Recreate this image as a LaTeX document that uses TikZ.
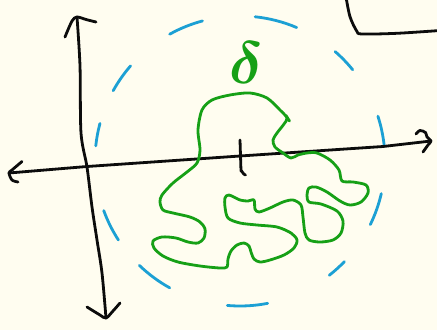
\documentclass[tikz,border=0pt]{standalone}
\usepackage{amsmath}
\usepackage{amssymb}
\usepackage{tikz}

\definecolor{paper}{RGB}{255,253,240}
\definecolor{inkblack}{RGB}{12,12,12}
\definecolor{inkgreen}{RGB}{22,160,22}
\definecolor{inkblue}{RGB}{28,160,212}

\begin{document}
\begin{tikzpicture}[x=1pt, y=-1pt,
    pen/.style={line width=2.8pt, line cap=round, line join=round},
    axispen/.style={pen, inkblack},
    loopen/.style={pen, inkgreen},
    ringpen/.style={pen, inkblue}]
    \fill[paper] (0,0) rectangle (437,330);
    \useasboundingbox (0,0) rectangle (437,330);
    \coordinate (xLeft) at (9,173);
    \coordinate (xRight) at (431,141);
    \coordinate (yTop) at (77,17);
    \coordinate (yBot) at (106,318);
    \coordinate (ctr) at (240,161);
    % dashed ring
    \foreach \a/\b in {105/119, 67/84, 39/49, 139/151, 6/18, 165/174,
                       -26/-13, 200/213, 226/241, -52/-44, 265/281}
        \draw[ringpen] (ctr) ++(-\a:145) arc[start angle=-\a, end angle=-\b, radius=145];
    % axes
    \draw[axispen] (xLeft) -- (87,166.5) -- (240,156) -- (383,146.5) -- (xRight);
    \draw[axispen] plot[smooth] coordinates {(yTop) (80,66) (81,133) (87,167) (92,207) (97,240) (102,273) (yBot)};
    \draw[axispen] plot[smooth] coordinates {(22,161.5) (12,170) (xLeft) (12,180) (18,182)};
    \draw[axispen] plot[smooth] coordinates {(416,134) (420,130.5) (425.5,132.5) (427,137) (xRight) (428,145) (423,152)};
    \draw[axispen] plot[smooth] coordinates {(65,37) (72,21) (yTop) (86,19.5) (96,22)};
    \draw[axispen] plot[smooth] coordinates {(87,307) (100,315) (yBot) (113,311) (120,303)};
    \draw[axispen] (240,140) -- (241,171) to[out=90, in=180] (245.5,175);
    \draw[axispen] plot[smooth] coordinates {(346,-3) (350,16.7) (356.7,31) (362,34) (397,33.3) (440,30.5)};
    % green region
    \draw[loopen] plot[smooth cycle, tension=0.5] coordinates {
        (287,118) (280,110) (267,98) (250,93) (230,95) (212,100) (202,110)
        (198,130) (200,150) (197,163) (187,172) (173,183) (162,195) (160,202)
        (163,210) (173,213) (190,217) (200,222) (205,229) (204,238) (198,243)
        (188,242) (176,238) (162,237) (153,241) (154,248) (163,256) (178,262)
        (200,266) (220,268) (227,267) (228,259) (231,251) (237,245) (244,243)
        (249,246) (251,252) (254,259) (260,262) (270,260) (284,255) (294,248)
        (297,240) (291,233) (277,227) (257,225) (240,223) (228,218) (225,207)
        (225,198) (229,195) (240,200) (248,201) (254,200) (255,209) (259,212)
        (270,208) (283,202) (293,200) (301,205) (303,217) (305,233) (309,240)
        (320,242) (333,240) (341,233) (343,221) (337,211) (321,204) (309,202)
        (307,195) (309,188) (316,187) (327,192) (340,201) (350,205) (361,202)
        (368,193) (366,185) (353,182) (342,181) (339,170) (330,160) (317,153)
        (307,153) (298,155) (291,158) (283,153) (275,147) (273,140) (277,133)
        (284,124)};
    \draw[loopen] (286,115.5) -- (289.5,121);
    \node[inkgreen, inner sep=0pt] (delta) at (246.5,63) {\scalebox{2.4}{\Huge$\boldsymbol{\delta}$}};
\end{tikzpicture}
\end{document}
